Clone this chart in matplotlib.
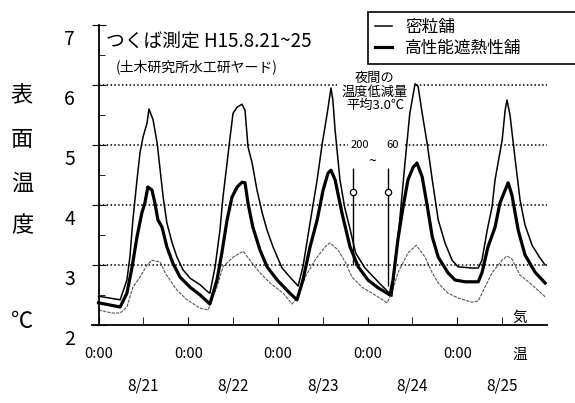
import matplotlib
matplotlib.use('Agg')
import matplotlib.pyplot as plt
import matplotlib.transforms as mtransforms

plt.rcParams['font.family'] = ['Noto Sans CJK JP', 'DejaVu Sans']

# 密粒舗 (thin line): hours from 8/21 0:00, surface temperature
hours_dense = [0, 5.8, 7.6, 8.4, 9.2, 10.3, 11.1, 11.9, 13.0, 13.5, 14.6, 15.7, 16.5, 17.3,
               18.3, 19.7, 21.0, 22.6, 24.5, 27.2, 29.3, 29.8, 31.2, 32.5, 33.3, 34.4, 35.2,
               36.0, 37.1, 38.4, 39.2, 40.0, 41.1, 42.4, 43.8, 45.1, 46.7, 49.1, 51.2, 53.4,
               54.7, 56.6, 58.5, 59.8, 61.2, 62.2, 62.7,
               63.3, 64.6, 65.9, 67.3, 68.8, 71.3, 74.8, 77.5, 78.5, 79.3, 80.6, 82.0, 83.3,
               84.7, 85.5, 86.6, 88.0, 89.3, 90.9, 92.7, 94.6, 96.2, 99.9, 101.6, 102.6,
               104.0, 105.3, 106.1, 108.0, 108.8, 109.3, 110.1, 111.5, 112.8, 114.1, 116.0,
               118.1, 119.5]
temp_dense = [2.48, 2.42, 2.75, 3.13, 3.75, 4.42, 4.87, 5.13, 5.37, 5.60, 5.42, 5.03, 4.58, 4.13,
              3.70, 3.37, 3.13, 2.92, 2.78, 2.67, 2.55, 2.53, 2.97, 3.58, 4.13, 4.70, 5.13,
              5.53, 5.63, 5.68, 5.58, 4.97, 4.70, 4.25, 3.87, 3.58, 3.30, 2.95, 2.80, 2.65,
              2.97, 3.70, 4.42, 5.00, 5.53, 5.95, 5.75,
              5.25, 4.42, 3.95, 3.60, 3.20, 2.95, 2.72, 2.55, 2.48, 2.97, 3.75, 4.70, 5.53,
              6.02, 5.98, 5.53, 5.00, 4.42, 3.75, 3.37, 3.08, 2.97, 2.95, 2.95, 3.08,
              3.58, 3.97, 4.42, 5.08, 5.58, 5.75, 5.50, 4.75, 4.08, 3.67, 3.33,
              3.12, 3.00]

# 高性能遮熱性舗 (thick line)
hours_shield = [0, 5.8, 7.6, 9.0, 10.3, 11.6, 12.4, 13.2, 14.3, 15.1, 15.9, 17.0, 18.3, 19.9,
                21.8, 24.5, 27.2, 29.8, 31.7, 33.0, 34.4, 35.7, 37.1, 38.4, 39.2, 40.0, 41.3,
                43.2, 45.1, 47.8, 51.2, 53.1, 54.7, 56.6, 58.5, 60.1, 61.4, 62.2, 63.3, 65.2,
                67.3, 69.5, 72.1, 74.8, 78.0, 78.8, 80.1, 81.5, 82.8, 84.2, 85.2, 86.6, 88.0,
                89.3, 90.9, 93.5, 95.4, 98.1, 101.6, 102.6, 104.2, 106.1, 107.4, 108.8, 109.6,
                110.6, 112.3, 114.1, 116.8, 119.5]
temp_shield = [2.37, 2.30, 2.53, 2.97, 3.47, 3.87, 4.03, 4.30, 4.25, 4.03, 3.75, 3.63, 3.30, 3.03,
               2.80, 2.63, 2.50, 2.35, 2.75, 3.20, 3.75, 4.13, 4.30, 4.38, 4.37, 4.03, 3.63,
               3.25, 2.97, 2.75, 2.53, 2.42, 2.75, 3.30, 3.75, 4.25, 4.53, 4.58, 4.42, 3.85,
               3.30, 2.97, 2.75, 2.62, 2.50, 2.75, 3.42, 3.97, 4.42, 4.63, 4.70, 4.47, 3.97,
               3.47, 3.13, 2.87, 2.75, 2.72, 2.72, 2.87, 3.30, 3.63, 4.03, 4.25, 4.37,
               4.17, 3.58, 3.17, 2.88, 2.70]

# 気温 (air temperature, grey)
hours_air = [0, 3.6, 5.8, 7.6, 9.2, 11.1, 13.0, 14.3, 16.5, 17.8, 19.1, 21.0, 23.7, 27.2, 29.3,
             31.7, 33.3, 36.0, 38.7, 40.5, 43.2, 45.9, 49.4, 51.8, 53.4, 55.3, 57.9,
             60.6, 61.9, 64.1, 66.0, 67.8, 70.5, 74.0, 77.2, 78.5, 80.1, 82.8, 85.0, 87.4,
             89.3, 90.9, 93.5, 96.2, 99.9, 101.6, 103.4, 105.3, 108.0, 109.3, 110.6, 112.8,
             115.4, 119.5]
temp_air = [2.25, 2.20, 2.20, 2.30, 2.63, 2.80, 3.00, 3.08, 3.05, 2.87, 2.75, 2.58, 2.42, 2.28, 2.25,
            2.63, 2.97, 3.13, 3.23, 3.08, 2.87, 2.70, 2.53, 2.35, 2.47, 2.80, 3.08,
            3.30, 3.37, 3.25, 3.05, 2.80, 2.63, 2.50, 2.37, 2.53, 2.87, 3.20, 3.33, 3.13,
            2.87, 2.70, 2.53, 2.45, 2.38, 2.40, 2.63, 2.87, 3.08, 3.15, 3.10, 2.83,
            2.70, 2.47]

day_hours = [0, 24, 48, 72, 96]
noon_hours = [12, 36, 60, 84, 108]
date_labels = ['8/21', '8/22', '8/23', '8/24', '8/25']
y_ticks = [2, 3, 4, 5, 6, 7]

fig = plt.figure(figsize=(5.75, 4.03), dpi=100)
ax = fig.add_axes([92 / 575, 1 - 325 / 403, 455 / 575, 300 / 403])

ax.plot(hours_air, temp_air, color='0.35', lw=0.8, ls=(0, (3, 1)))
l_dense, = ax.plot(hours_dense, temp_dense, color='black', lw=1.1)
l_shield, = ax.plot(hours_shield, temp_shield, color='black', lw=2.3)

# dotted reference lines (broken where the notes sit)
dots = (0, (1, 1.5))
ax.hlines([3, 4, 5, 5, 6, 6], [0, 0, 0, 82.0, 0, 85.0], [120, 120, 66.7, 120, 63.8, 120],
          colors='black', linestyles=dots, lw=1.1)

ax.set_xlim(-1.74, 120)
ax.set_ylim(2, 7)
ax.spines['left'].set_position(('data', 0))
ax.spines['top'].set_visible(False)
ax.spines['right'].set_visible(False)
ax.spines['left'].set_linewidth(1.3)
ax.spines['bottom'].set_linewidth(1.3)

ax.set_xticks(day_hours)
ax.set_xticklabels(['0:00'] * 5, fontsize=10.5)
ax.set_xticks(noon_hours, minor=True)
ax.set_xticklabels(date_labels, minor=True, fontsize=11)
ax.tick_params(axis='x', which='major', direction='in', length=6, pad=16)
ax.tick_params(axis='x', which='minor', direction='in', length=6, pad=38)

ax.set_yticks(y_ticks)
ax.set_yticklabels([str(v) for v in y_ticks], fontsize=14)
ax.set_yticks([2.5, 3.5, 4.5, 5.5, 6.5], minor=True)
ax.tick_params(axis='y', which='major', direction='inout', length=10, pad=12)
ax.tick_params(axis='y', which='minor', direction='in', length=4)
shift = mtransforms.ScaledTranslation(0, -12 / 100, fig.dpi_scale_trans)
for lab in ax.get_yticklabels():
    lab.set_transform(lab.get_transform() + shift)

# notes
ax.text(2, 6.72, 'つくば測定 H15.8.21~25', fontsize=13.5, va='center')
ax.text(4.5, 6.3, '(土木研究所水工研ヤード)', fontsize=10, va='center')
ax.text(74, 5.88, '夜間の\n温度低減量\n平均3.0℃', fontsize=9.5, ha='center', va='center',
        linespacing=1.05)
ax.text(70.0, 5.0, '200', fontsize=8, ha='center', va='center')
ax.text(78.8, 5.0, '60', fontsize=8, ha='center', va='center')
ax.text(73.2, 4.72, '~', fontsize=10, ha='center', va='center')
ax.vlines([68.1, 77.5], [3.0, 2.65], [4.62, 4.62], colors='black', lw=1.0)
ax.plot([68.1, 77.5], [4.22, 4.22], 'o', mfc='white', mec='black', ms=4.5, mew=0.9)
ax.text(112.8, 2.12, '気', fontsize=10.5, ha='center', va='center')
ax.text(112.8, 1.5, '温', fontsize=10.5, ha='center', va='center', clip_on=False)

# y-axis title
for ch, yy in zip('表面温度', [0.762, 0.654, 0.545, 0.440]):
    fig.text(22 / 575, yy, ch, fontsize=16, ha='center', va='center')
fig.text(22 / 575, 1 - 322 / 403, '℃', fontsize=16, ha='center', va='center')

leg = fig.legend([l_dense, l_shield], ['密粒舗', '高性能遮熱性舗'], loc='upper left',
                 bbox_to_anchor=(360 / 575, 1 - 4 / 403, 0.40, 0.0), mode='expand',
                 fontsize=12, handlelength=1.0, handletextpad=0.8, labelspacing=0.25,
                 borderpad=0.4, fancybox=False, edgecolor='black', framealpha=1)
leg.get_frame().set_linewidth(1.2)

fig.savefig('out.png', dpi=100)
